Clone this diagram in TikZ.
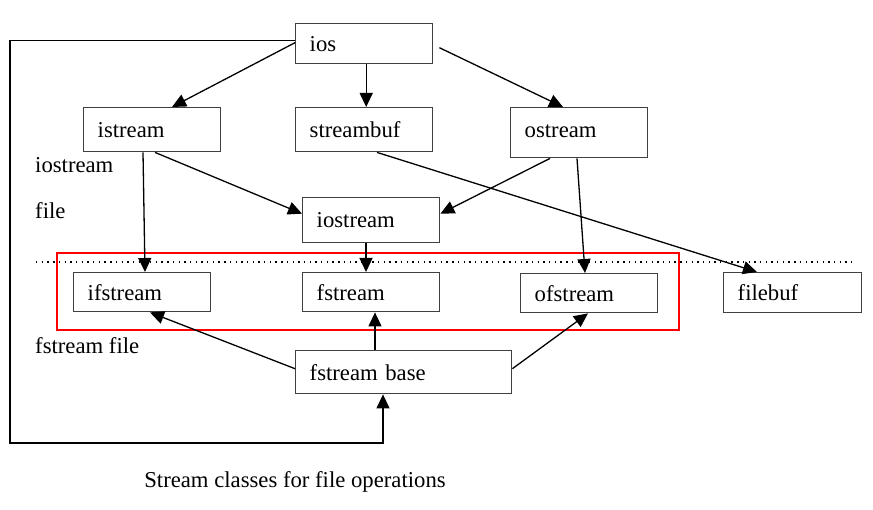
\documentclass[tikz,border=0pt]{standalone}
\usepackage{fontspec}
\setmainfont{Liberation Serif}
\usetikzlibrary{arrows.meta,calc}
\begin{document}
\begin{tikzpicture}[x=1pt,y=-1pt,
  font=\fontsize{22.7}{26}\selectfont,
  box/.style={draw=black!75, line width=1.4pt, inner xsep=14pt, inner ysep=0pt, align=left, anchor=north west},
  conn/.style={line width=1.3pt, -{Triangle[length=14pt,width=13pt]}},
  lbl/.style={anchor=west, inner sep=0pt}]
\useasboundingbox (0,0) rectangle (873,510);
% boxes
\node[box, minimum width=137pt, minimum height=40pt, text width=109pt] (ios) at (295,23) {ios};
\node[box, minimum width=137pt, minimum height=44pt, text width=109pt] (istream) at (83,107) {istream};
\node[box, minimum width=137pt, minimum height=44pt, text width=109pt] (streambuf) at (295,107) {streambuf};
\node[box, minimum width=137pt, minimum height=50pt, text width=109pt] (ostream) at (510,107) {\raisebox{4pt}{ostream}};
\node[box, minimum width=137pt, minimum height=45pt, text width=109pt] (iostream) at (302,197) {iostream};
\node[box, minimum width=137pt, minimum height=39pt, text width=109pt] (ifstream) at (73,272) {ifstream};
\node[box, minimum width=137pt, minimum height=39pt, text width=109pt] (fstream) at (302,272) {fstream};
\node[box, minimum width=137pt, minimum height=39pt, text width=109pt] (ofstream) at (520,273) {ofstream};
\node[box, minimum width=138pt, minimum height=40pt, text width=110pt] (filebuf) at (723,272) {filebuf};
\node[box, minimum width=216pt, minimum height=43pt, text width=188pt] (fbase) at (295,350) {fstream base};
% side labels
\node[lbl] (l1) at (35,165) {iostream};
\node[lbl] (l2) at (35,211) {file};
\node[lbl] (l3) at (35,346) {fstream file};
\node[inner sep=0pt] (cap) at (295,482) {Stream classes for file operations};
% dotted separator and red frame
\draw[line width=1.6pt, dash pattern=on 1.4pt off 4.3pt] (36,262) -- (852,262);
\draw[red, line width=2.6pt] (57,253) rectangle (679,330);
% connectors
\draw[conn] ([yshift=1pt]ios.west) -- ([xshift=89pt]istream.north west);
\draw[conn] ([xshift=2pt]ios.south) -- ([xshift=2pt]streambuf.north);
\draw[conn] ([xshift=6pt,yshift=-4pt]ios.east) -- ([xshift=53pt]ostream.north west);
\draw[conn] ([xshift=60pt]istream.south west) -- ([xshift=72pt]ifstream.north west);
\draw[conn] ([xshift=72pt]istream.south west) -- ([yshift=6.5pt]iostream.west);
\draw[conn] ([xshift=40pt]ostream.south west) -- ([yshift=6.5pt]iostream.east);
\draw[conn] ([xshift=67pt]ostream.south west) -- ([xshift=65pt]ofstream.north west);
\draw[conn] ([xshift=82pt]streambuf.south west) -- ([xshift=34pt]filebuf.north west);
\draw[conn] ([xshift=64pt]iostream.south west) -- ([xshift=64pt]fstream.north west);
\draw[conn] ([yshift=3.5pt]fbase.west) -- ([xshift=77pt]ifstream.south west);
\draw[conn] ([xshift=80pt]fbase.north west) -- ([xshift=73pt]fstream.south west);
\draw[conn] ([yshift=3.5pt]fbase.east) -- ([xshift=68pt]ofstream.south west);
% loop from ios to fstream base
\coordinate (lb) at (10,443);
\draw[conn] ([yshift=3pt]ios.west) -| (lb) -| ([xshift=88pt]fbase.south west);
\end{tikzpicture}
\end{document}
